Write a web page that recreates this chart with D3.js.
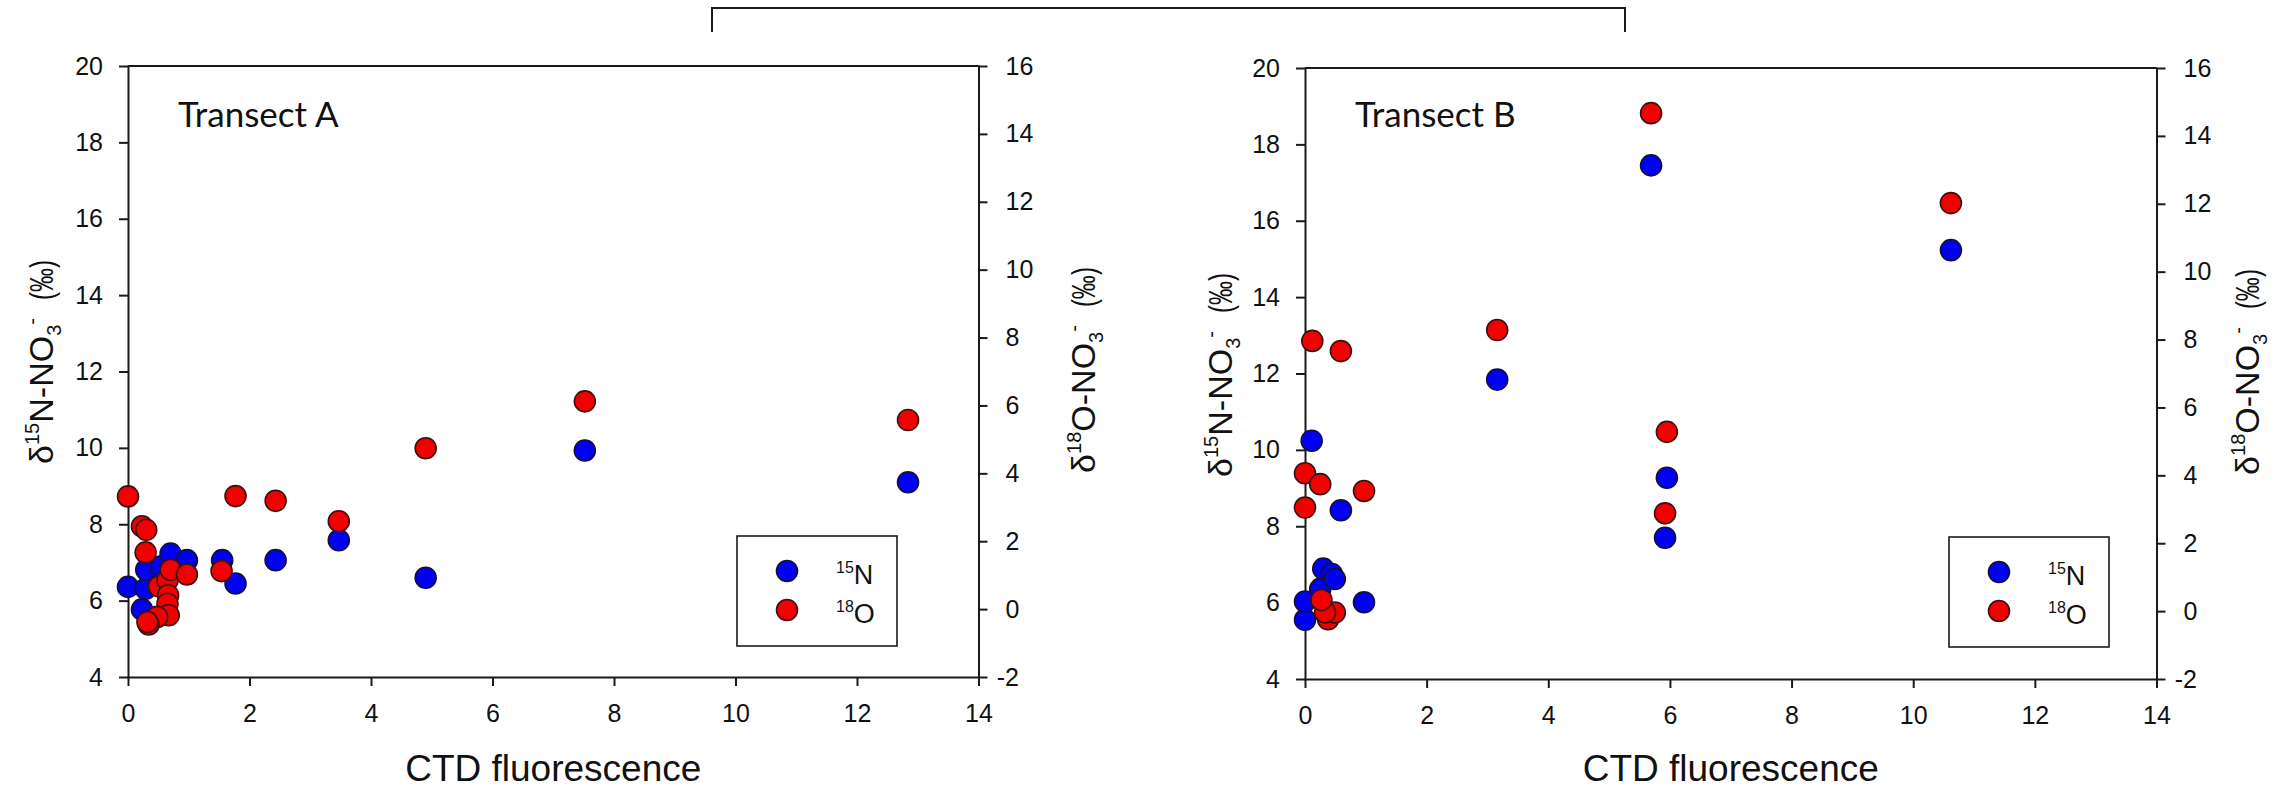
<!DOCTYPE html>
<html>
<head>
<meta charset="utf-8">
<script src="https://cdn.jsdelivr.net/npm/d3@7"></script>
<style>
  body { margin: 0; background: #fff; }
  .axis path, .axis line { stroke: #1a1a1a; stroke-width: 2; }
  .axis text { font-family: "Liberation Sans", Arial, sans-serif; font-size: 25px; fill: #111; }
  .title { font-family: "Liberation Sans", Arial, sans-serif; fill: #111; }
  .panel-name { font-family: Lato, "Open Sans", sans-serif; font-size: 35px; fill: #111; }
</style>
</head>
<body>
<svg id="chart" width="2292" height="791"></svg>
<script>

// ticks
var xTicks = [0, 2, 4, 6, 8, 10, 12, 14],
    nTicks = [4, 6, 8, 10, 12, 14, 16, 18, 20],
    oTicks = [-2, 0, 2, 4, 6, 8, 10, 12, 14, 16];

// Transect A : [CTD fluorescence, value]
var transectA_15N = [
  [0, 6.36], [0.23, 5.77], [0.29, 6.31], [0.30, 6.81], [0.55, 6.9],
  [0.70, 7.23], [0.97, 7.06], [1.55, 7.06], [1.77, 6.45], [2.43, 7.06],
  [3.47, 7.58], [4.90, 6.60], [7.52, 9.93], [12.84, 9.10]
];
var transectA_18O = [
  [0, 3.32], [0.23, 2.44], [0.30, 2.34], [0.29, 1.67], [0.51, 0.67],
  [0.65, 0.85], [0.66, 0.41], [0.65, 0.16], [0.67, -0.18], [0.48, -0.23],
  [0.34, -0.45], [0.32, -0.38], [0.70, 1.16], [0.97, 1.02], [1.54, 1.12],
  [1.77, 3.33], [2.43, 3.19], [3.47, 2.59], [4.90, 4.74], [7.52, 6.12],
  [12.84, 5.57]
];

// Transect B
var transectB_15N = [
  [0, 5.55], [0, 6.03], [0.11, 10.24], [0.25, 6.36], [0.30, 6.89],
  [0.44, 6.75], [0.49, 6.62], [0.59, 8.42], [0.97, 6.01], [3.16, 11.84],
  [5.69, 17.45], [5.95, 9.27], [5.92, 7.70], [10.62, 15.23]
];
var transectB_18O = [
  [0, 4.06], [0, 3.05], [0.12, 7.96], [0.25, 3.74], [0.59, 7.66],
  [0.97, 3.54], [0.38, -0.24], [0.49, -0.04], [0.33, -0.04], [0.27, 0.33],
  [3.16, 8.28], [5.69, 14.67], [5.95, 5.28], [5.92, 2.88], [10.62, 12.02]
];

var svg = d3.select("#chart");
svg.append("rect").attr("width", 2292).attr("height", 791).attr("fill", "#fff");

var panels = [
  {name: "Transect A", n: transectA_15N, o: transectA_18O,
   left: 128, right: 978.5, top: 66, bottom: 677,
   legend: {x: 737, y: 536},
   yLabelL: [53, 362], yLabelR: [1095, 370]},
  {name: "Transect B", n: transectB_15N, o: transectB_18O,
   left: 1305, right: 2156.5, top: 68, bottom: 679,
   legend: {x: 1949, y: 537},
   yLabelL: [1232, 375], yLabelR: [2259, 372]}
];

panels.forEach(function(p) {
  var x = d3.scaleLinear().domain([0, 14]).range([p.left, p.right]),
      yN = d3.scaleLinear().domain([4, 20]).range([p.bottom, p.top]),
      yO = d3.scaleLinear().domain([-2, 16]).range([p.bottom, p.top]);

  var g = svg.append("g");

  // frame top line
  g.append("line")
      .attr("x1", p.left).attr("x2", p.right)
      .attr("y1", p.top).attr("y2", p.top)
      .attr("stroke", "#1a1a1a").attr("stroke-width", 2);

  g.append("g")
      .attr("class", "axis")
      .attr("transform", "translate(0," + p.bottom + ")")
      .call(d3.axisBottom(x).tickValues(xTicks).tickSize(9).tickPadding(18).tickSizeOuter(0));

  g.append("g")
      .attr("class", "axis")
      .attr("transform", "translate(" + p.left + ",0)")
      .call(d3.axisLeft(yN).tickValues(nTicks).tickSize(9).tickPadding(16).tickSizeOuter(0));

  var rAxis = g.append("g")
      .attr("class", "axis")
      .attr("transform", "translate(" + p.right + ",0)")
      .call(d3.axisRight(yO).tickValues(oTicks).tickSize(9).tickPadding(18).tickSizeOuter(0)
        .tickFormat(function(d) { return d < 0 ? "-" + (-d) : d; }));
  rAxis.selectAll("text").attr("dx", function(d) { return d < 0 ? "-0.35em" : 0; });
  g.selectAll(".axis .domain").attr("stroke-linecap", "square");

  // points: 15N first, 18O over them
  g.append("g").selectAll("circle")
    .data(p.n)
    .enter().append("circle")
      .attr("cx", function(d) { return x(d[0]); })
      .attr("cy", function(d) { return yN(d[1]); })
      .attr("r", 10.5)
      .attr("fill", "#0000f5")
      .attr("stroke", "#10103a")
      .attr("stroke-width", 1.6);

  g.append("g").selectAll("circle")
    .data(p.o)
    .enter().append("circle")
      .attr("cx", function(d) { return x(d[0]); })
      .attr("cy", function(d) { return yO(d[1]); })
      .attr("r", 10.5)
      .attr("fill", "#f20000")
      .attr("stroke", "#3a1010")
      .attr("stroke-width", 1.6);

  g.append("text")
      .attr("class", "panel-name")
      .attr("x", p.left + 50)
      .attr("y", 127)
      .text(p.name);

  // x title
  g.append("text")
      .attr("class", "title")
      .attr("x", (p.left + p.right) / 2)
      .attr("y", 781)
      .attr("text-anchor", "middle")
      .style("font-size", "37px")
      .text("CTD fluorescence");

  // y titles
  yTitle(g, p.yLabelL, "15", "N");
  yTitle(g, p.yLabelR, "18", "O");

  // legend
  var lg = g.append("g").attr("transform", "translate(" + p.legend.x + "," + p.legend.y + ")");
  lg.append("rect")
      .attr("width", 160).attr("height", 110)
      .attr("fill", "#fff").attr("stroke", "#1a1a1a").attr("stroke-width", 1.6);
  [["15", "N", "#0000f5", "#10103a", 35], ["18", "O", "#f20000", "#3a1010", 74]].forEach(function(e) {
    lg.append("circle")
        .attr("cx", 50).attr("cy", e[4]).attr("r", 10.5)
        .attr("fill", e[2]).attr("stroke", e[3]).attr("stroke-width", 1.6);
    var t = lg.append("text")
        .attr("class", "title")
        .attr("x", 99).attr("y", e[4] + 13)
        .style("font-size", "27px");
    t.append("tspan").attr("dy", -11).style("font-size", "16px").text(e[0]);
    t.append("tspan").attr("dy", 11).text(e[1]);
  });
});

// rotated title: δ(iso)El-NO3- then a narrow (‰)
function yTitle(g, pos, iso, el) {
  var grp = g.append("g")
      .attr("transform", "translate(" + pos[0] + "," + pos[1] + ") rotate(-90)");
  var t = grp.append("text")
      .attr("class", "title")
      .style("font-size", "34px");
  t.append("tspan").text("δ");
  t.append("tspan").attr("dy", -14).style("font-size", "20px").text(iso);
  t.append("tspan").attr("dy", 14).text(el + "-NO");
  t.append("tspan").attr("dy", 8).style("font-size", "20px").text("3");
  t.append("tspan").attr("dy", -22).style("font-size", "20px").text("-");

  var len = t.node().getComputedTextLength(),
      gap = 18, pw = 40,
      start = -(len + gap + pw) / 2;
  t.attr("x", start);
  grp.append("text")
      .attr("class", "title")
      .style("font-size", "34px")
      .attr("x", start + len + gap)
      .attr("textLength", pw)
      .attr("lengthAdjust", "spacingAndGlyphs")
      .text("(‰)");
}

// bracket on top
svg.append("path")
    .attr("d", "M712,32V8H1625V32")
    .attr("fill", "none")
    .attr("stroke", "#1a1a1a")
    .attr("stroke-width", 2);

</script>
</body>
</html>
